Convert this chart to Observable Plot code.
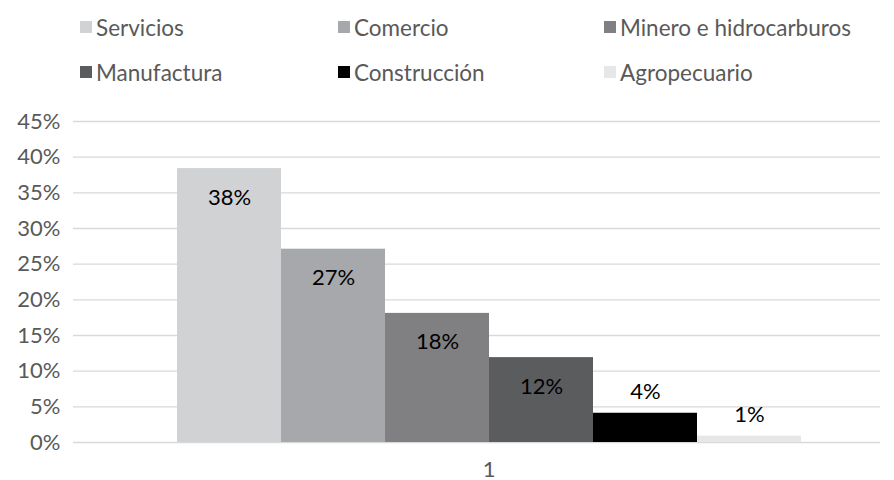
<!DOCTYPE html>
<html>
<head>
<meta charset="utf-8">
<script src="https://cdn.jsdelivr.net/npm/d3@7"></script>
<script src="https://cdn.jsdelivr.net/npm/@observablehq/plot@0.6"></script>
<style>
  html, body { margin: 0; padding: 0; background: #fff; }
  #wrap { width: 894px; height: 480px; position: relative; font-family: Lato, "Open Sans", sans-serif; }
  #legend { position: relative; width: 894px; height: 95px; }
  .item { position: absolute; display: flex; align-items: center; font-size: 22.5px; color: #595959; white-space: nowrap; }
  .sw { width: 12px; height: 12px; margin-right: 4px; flex: none; }
  #chart svg { display: block; }
</style>
</head>
<body>
<div id="wrap">
  <div id="legend"></div>
  <div id="chart"></div>
</div>
<script>
const categories = ["Servicios", "Comercio", "Minero e hidrocarburos", "Manufactura", "Construcción", "Agropecuario"];
const values = [0.384, 0.271, 0.181, 0.119, 0.041, 0.009];
const colors = ["#d1d2d4", "#a7a8ab", "#808083", "#5b5c5e", "#000000", "#e6e7e8"];
const groupLabel = ["1"];
const yTicks = [0, 0.05, 0.10, 0.15, 0.20, 0.25, 0.30, 0.35, 0.40, 0.45];

const data = categories.map((c, i) => ({category: c, value: values[i]}));

// Legend (HTML, above the SVG)
const legendPos = [[80, 27], [338, 27], [604, 27], [80, 72], [338, 72], [604, 72]];
const legend = document.getElementById("legend");
categories.forEach((c, i) => {
  const it = document.createElement("div");
  it.className = "item";
  it.style.left = legendPos[i][0] + "px";
  it.style.top = (legendPos[i][1] - 14) + "px";
  it.style.height = "28px";
  const sw = document.createElement("span");
  sw.className = "sw";
  sw.style.background = colors[i];
  const tx = document.createElement("span");
  tx.textContent = c;
  it.appendChild(sw); it.appendChild(tx);
  legend.appendChild(it);
});

const W = 894, H = 385;
const chart = Plot.plot({
  width: W,
  height: H,
  marginLeft: 73,
  marginRight: 14,
  marginTop: 26,
  marginBottom: 38,
  style: {fontFamily: "Lato, 'Open Sans', sans-serif", fontSize: "22px", color: "#595959", background: "#fff"},
  x: {type: "band", domain: categories, range: [177, 801], padding: 0, axis: null},
  y: {domain: [0, 0.45], ticks: yTicks, tickFormat: d3.format(".0%"), tickSize: 0, tickPadding: 13, label: null},
  color: {domain: categories, range: colors},
  marks: [
    Plot.ruleY(yTicks, {stroke: "#d9d9d9", strokeWidth: 1.3}),
    Plot.barY(data, {x: "category", y: "value", fill: "category", inset: 0}),
    Plot.text(data.filter(d => d.value >= 0.1), {x: "category", y: "value", text: d => Math.round(d.value * 100) + "%", dy: 29, fill: "#000", fontSize: 22}),
    Plot.text(data.filter(d => d.value < 0.1), {x: "category", y: "value", text: d => Math.round(d.value * 100) + "%", dy: -21, fill: "#000", fontSize: 22}),
    Plot.text(groupLabel, {text: d => d, frameAnchor: "bottom", dx: 12, dy: 34, fill: "#595959", fontSize: 22})
  ]
});
document.getElementById("chart").appendChild(chart);
</script>
</body>
</html>
